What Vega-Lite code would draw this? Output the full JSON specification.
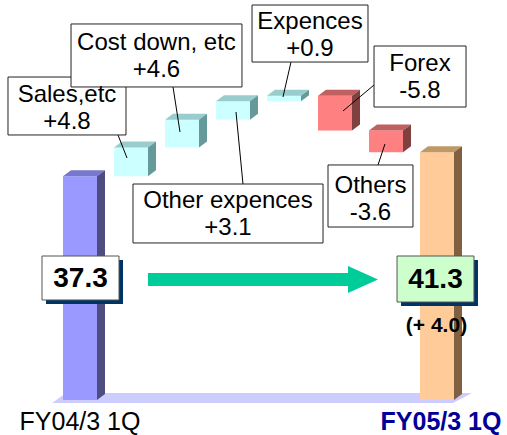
{
  "$schema": "https://vega.github.io/schema/vega-lite/v6.json",
  "width": 507,
  "height": 435,
  "autosize": "none",
  "padding": 0,
  "background": "white",
  "config": {"view": {"stroke": null}, "font": "Liberation Sans"},
  "datasets": {
    "steps": [
      {"step": "FY04/3 1Q", "i": 0, "lo": 0, "hi": 37.3, "kind": "start"},
      {"step": "Sales,etc", "i": 1, "lo": 37.3, "hi": 42.1, "kind": "up"},
      {"step": "Cost down, etc", "i": 2, "lo": 42.1, "hi": 46.7, "kind": "up"},
      {"step": "Other expences", "i": 3, "lo": 46.7, "hi": 49.8, "kind": "up"},
      {"step": "Expences", "i": 4, "lo": 49.8, "hi": 50.7, "kind": "up"},
      {"step": "Forex", "i": 5, "lo": 44.9, "hi": 50.7, "kind": "down"},
      {"step": "Others", "i": 6, "lo": 41.3, "hi": 44.9, "kind": "down"},
      {"step": "FY05/3 1Q", "i": 7, "lo": 0, "hi": 41.3, "kind": "end"}
    ],
    "floor": [
      {"fx": -0.549, "fy": -0.5, "fy2": -0.5},
      {"fx": -0.275, "fy": -0.5, "fy2": 1.167},
      {"fx": 7.314, "fy": -0.5, "fy2": 1.167},
      {"fx": 7.686, "fy": 1.167, "fy2": 1.167}
    ],
    "notes": [
      {"text": "Sales,etc\n+4.8", "bx1": -1.412, "bx2": 0.902, "by1": 44.17, "by2": 53.83, "tx": -0.255, "ty": 49.67, "lx1": 0.745, "ly1": 44.17, "lx2": 0.922, "ly2": 40.33},
      {"text": "Cost down, etc\n+4.6", "bx1": -0.176, "bx2": 3.176, "by1": 52.17, "by2": 62.67, "tx": 1.5, "ty": 58.33, "lx1": 1.824, "ly1": 52.17, "lx2": 1.961, "ly2": 44.67},
      {"text": "Other expences\n+3.1", "bx1": 1.039, "bx2": 4.765, "by1": 26.17, "by2": 36.0, "tx": 2.902, "ty": 32.0, "lx1": 3.196, "ly1": 36.0, "lx2": 3.059, "ly2": 48.0},
      {"text": "Expences\n+0.9", "bx1": 3.373, "bx2": 5.647, "by1": 56.33, "by2": 65.83, "tx": 4.51, "ty": 61.83, "lx1": 4.137, "ly1": 56.33, "lx2": 3.98, "ly2": 50.5},
      {"text": "Forex\n-5.8", "bx1": 5.765, "bx2": 7.569, "by1": 48.83, "by2": 59.0, "tx": 6.667, "ty": 54.9, "lx1": 5.765, "ly1": 52.5, "lx2": 5.157, "ly2": 48.17},
      {"text": "Others\n-3.6", "bx1": 4.863, "bx2": 6.529, "by1": 28.83, "by2": 39.17, "tx": 5.696, "ty": 34.5, "lx1": 5.843, "ly1": 39.17, "lx2": 5.98, "ly2": 42.67}
    ],
    "totals": [
      {"text": "37.3", "kind": "start", "x1": -0.745, "x2": 0.765, "y1": 16.67, "y2": 24.0, "tx": 0.01, "ty": 20.17},
      {"text": "41.3", "kind": "end", "x1": 6.216, "x2": 7.725, "y1": 16.33, "y2": 24.0, "tx": 6.97, "ty": 20.0}
    ],
    "arrow": [
      {"from": 1.333, "to": 5.294, "lo": 19.0, "hi": 21.17, "head": 5.549, "mid": 20.08}
    ],
    "change": [
      {"text": "(+ 4.0)", "x": 6.99, "y": 12.33}
    ]
  },
  "layer": [
    {
      "data": {"name": "floor"},
      "mark": {"type": "area", "color": "#ccccff", "interpolate": "linear"},
      "encoding": {
        "x": {"field": "fx", "type": "quantitative", "scale": {"domain": [-1.5686, 8.3725], "nice": false, "zero": false}, "axis": null},
        "y": {"field": "fy", "type": "quantitative", "scale": {"domain": [-5.8333, 66.6667], "nice": false, "zero": false}, "axis": null},
        "y2": {"field": "fy2"}
      }
    },
    {
      "data": {"name": "steps"},
      "transform": [
        {"calculate": "datum.i - 0.3333", "as": "x0"},
        {"calculate": "datum.i + 0.3333", "as": "x1"}
      ],
      "mark": {"type": "rect"},
      "encoding": {
        "x": {"field": "x0", "type": "quantitative", "scale": {"domain": [-1.5686, 8.3725], "nice": false, "zero": false}, "axis": null},
        "x2": {"field": "x1"},
        "y": {"field": "lo", "type": "quantitative", "scale": {"domain": [-5.8333, 66.6667], "nice": false, "zero": false}, "axis": null},
        "y2": {"field": "hi"},
        "color": {"field": "kind", "type": "nominal", "scale": {"domain": ["start", "up", "down", "end"], "range": ["#9999ff", "#ccffff", "#ff8080", "#ffcc99"]}, "legend": null}
      }
    },
    {
      "data": {"name": "steps"},
      "transform": [
        {"fold": ["p0", "p1", "p2", "p3"], "as": ["corner", "cv"]},
        {"calculate": "datum.corner === 'p0' ? datum.i - 0.3333 : datum.corner === 'p1' ? datum.i - 0.1765 : datum.corner === 'p2' ? datum.i + 0.3333 : datum.i + 0.4902", "as": "tx"},
        {"calculate": "datum.corner === 'p3' ? datum.hi + 1 : datum.hi", "as": "ty"},
        {"calculate": "datum.corner === 'p0' ? datum.hi : datum.hi + 1", "as": "ty2"}
      ],
      "mark": {"type": "area", "interpolate": "linear"},
      "encoding": {
        "x": {"field": "tx", "type": "quantitative", "scale": {"domain": [-1.5686, 8.3725], "nice": false, "zero": false}, "axis": null},
        "y": {"field": "ty", "type": "quantitative", "scale": {"domain": [-5.8333, 66.6667], "nice": false, "zero": false}, "axis": null},
        "y2": {"field": "ty2"},
        "detail": {"field": "step"},
        "color": {"field": "kind", "type": "nominal", "scale": {"domain": ["start", "up", "down", "end"], "range": ["#7777cc", "#99cccc", "#c06060", "#c09866"]}, "legend": null}
      }
    },
    {
      "data": {"name": "steps"},
      "transform": [
        {"fold": ["p0", "p1"], "as": ["corner", "cv"]},
        {"calculate": "datum.corner === 'p0' ? datum.i + 0.3333 : datum.i + 0.4902", "as": "sx"},
        {"calculate": "datum.corner === 'p0' ? datum.lo : datum.lo + 1", "as": "sy"},
        {"calculate": "datum.corner === 'p0' ? datum.hi : datum.hi + 1", "as": "sy2"}
      ],
      "mark": {"type": "area", "interpolate": "linear"},
      "encoding": {
        "x": {"field": "sx", "type": "quantitative", "scale": {"domain": [-1.5686, 8.3725], "nice": false, "zero": false}, "axis": null},
        "y": {"field": "sy", "type": "quantitative", "scale": {"domain": [-5.8333, 66.6667], "nice": false, "zero": false}, "axis": null},
        "y2": {"field": "sy2"},
        "detail": {"field": "step"},
        "color": {"field": "kind", "type": "nominal", "scale": {"domain": ["start", "up", "down", "end"], "range": ["#4d4d80", "#669999", "#804040", "#806040"]}, "legend": null}
      }
    },
    {
      "data": {"name": "arrow"},
      "mark": {"type": "rect", "color": "#00cc99"},
      "encoding": {
        "x": {"field": "from", "type": "quantitative", "scale": {"domain": [-1.5686, 8.3725], "nice": false, "zero": false}, "axis": null},
        "x2": {"field": "to"},
        "y": {"field": "lo", "type": "quantitative", "scale": {"domain": [-5.8333, 66.6667], "nice": false, "zero": false}, "axis": null},
        "y2": {"field": "hi"}
      }
    },
    {
      "data": {"name": "arrow"},
      "mark": {"type": "point", "shape": "M-1,-0.9L1,0L-1,0.9Z", "filled": true, "size": 900, "color": "#00cc99", "opacity": 1},
      "encoding": {
        "x": {"field": "head", "type": "quantitative", "scale": {"domain": [-1.5686, 8.3725], "nice": false, "zero": false}, "axis": null},
        "y": {"field": "mid", "type": "quantitative", "scale": {"domain": [-5.8333, 66.6667], "nice": false, "zero": false}, "axis": null}
      }
    },
    {
      "data": {"name": "notes"},
      "mark": {"type": "rule", "color": "black", "strokeWidth": 1},
      "encoding": {
        "x": {"field": "lx1", "type": "quantitative", "scale": {"domain": [-1.5686, 8.3725], "nice": false, "zero": false}, "axis": null},
        "x2": {"field": "lx2"},
        "y": {"field": "ly1", "type": "quantitative", "scale": {"domain": [-5.8333, 66.6667], "nice": false, "zero": false}, "axis": null},
        "y2": {"field": "ly2"}
      }
    },
    {
      "data": {"name": "notes"},
      "mark": {"type": "rect", "fill": "white", "stroke": "#222222", "strokeWidth": 1},
      "encoding": {
        "x": {"field": "bx1", "type": "quantitative", "scale": {"domain": [-1.5686, 8.3725], "nice": false, "zero": false}, "axis": null},
        "x2": {"field": "bx2"},
        "y": {"field": "by1", "type": "quantitative", "scale": {"domain": [-5.8333, 66.6667], "nice": false, "zero": false}, "axis": null},
        "y2": {"field": "by2"}
      }
    },
    {
      "data": {"name": "notes"},
      "mark": {"type": "text", "fontSize": 24, "lineBreak": "\n", "lineHeight": 27, "align": "center", "baseline": "alphabetic", "color": "black"},
      "encoding": {
        "x": {"field": "tx", "type": "quantitative", "scale": {"domain": [-1.5686, 8.3725], "nice": false, "zero": false}, "axis": null},
        "y": {"field": "ty", "type": "quantitative", "scale": {"domain": [-5.8333, 66.6667], "nice": false, "zero": false}, "axis": null},
        "text": {"field": "text"}
      }
    },
    {
      "data": {"name": "totals"},
      "mark": {"type": "rect", "fill": "#003366", "xOffset": 4, "x2Offset": 4, "yOffset": 4, "y2Offset": 4},
      "encoding": {
        "x": {"field": "x1", "type": "quantitative", "scale": {"domain": [-1.5686, 8.3725], "nice": false, "zero": false}, "axis": null},
        "x2": {"field": "x2"},
        "y": {"field": "y1", "type": "quantitative", "scale": {"domain": [-5.8333, 66.6667], "nice": false, "zero": false}, "axis": null},
        "y2": {"field": "y2"}
      }
    },
    {
      "data": {"name": "totals"},
      "mark": {"type": "rect", "stroke": "#555555", "strokeWidth": 1},
      "encoding": {
        "x": {"field": "x1", "type": "quantitative", "scale": {"domain": [-1.5686, 8.3725], "nice": false, "zero": false}, "axis": null},
        "x2": {"field": "x2"},
        "y": {"field": "y1", "type": "quantitative", "scale": {"domain": [-5.8333, 66.6667], "nice": false, "zero": false}, "axis": null},
        "y2": {"field": "y2"},
        "color": {"field": "kind", "type": "nominal", "scale": {"domain": ["start", "end"], "range": ["#ffffff", "#ccffcc"]}, "legend": null}
      }
    },
    {
      "data": {"name": "totals"},
      "mark": {"type": "text", "fontSize": 28, "fontWeight": "bold", "align": "center", "baseline": "middle", "color": "black"},
      "encoding": {
        "x": {"field": "tx", "type": "quantitative", "scale": {"domain": [-1.5686, 8.3725], "nice": false, "zero": false}, "axis": null},
        "y": {"field": "ty", "type": "quantitative", "scale": {"domain": [-5.8333, 66.6667], "nice": false, "zero": false}, "axis": null},
        "text": {"field": "text"}
      }
    },
    {
      "data": {"name": "change"},
      "mark": {"type": "text", "fontSize": 21, "fontWeight": "bold", "align": "center", "baseline": "middle", "color": "black"},
      "encoding": {
        "x": {"field": "x", "type": "quantitative", "scale": {"domain": [-1.5686, 8.3725], "nice": false, "zero": false}, "axis": null},
        "y": {"field": "y", "type": "quantitative", "scale": {"domain": [-5.8333, 66.6667], "nice": false, "zero": false}, "axis": null},
        "text": {"field": "text"}
      }
    },
    {
      "data": {"name": "steps"},
      "transform": [{"filter": "datum.kind === 'start'"}],
      "mark": {"type": "text", "fontSize": 25, "align": "center", "baseline": "alphabetic", "color": "black"},
      "encoding": {
        "x": {"field": "i", "type": "quantitative", "scale": {"domain": [-1.5686, 8.3725], "nice": false, "zero": false}, "axis": null},
        "y": {"datum": -5, "type": "quantitative", "scale": {"domain": [-5.8333, 66.6667], "nice": false, "zero": false}, "axis": null},
        "text": {"field": "step"}
      }
    },
    {
      "data": {"name": "steps"},
      "transform": [{"filter": "datum.kind === 'end'"}],
      "mark": {"type": "text", "fontSize": 25, "fontWeight": "bold", "align": "center", "baseline": "alphabetic", "color": "#000099", "dx": 4},
      "encoding": {
        "x": {"field": "i", "type": "quantitative", "scale": {"domain": [-1.5686, 8.3725], "nice": false, "zero": false}, "axis": null},
        "y": {"datum": -5, "type": "quantitative", "scale": {"domain": [-5.8333, 66.6667], "nice": false, "zero": false}, "axis": null},
        "text": {"field": "step"}
      }
    }
  ],
  "resolve": {"scale": {"color": "independent"}}
}
